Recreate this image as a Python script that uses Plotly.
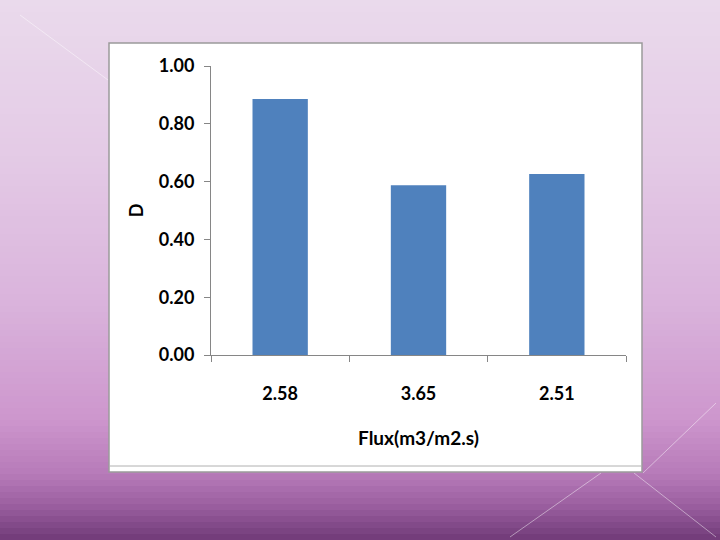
import plotly.graph_objects as go

flux_labels = ["2.58", "3.65", "2.51"]
d_values = [0.886, 0.587, 0.626]

W, H = 720, 540
L, R, T, B = 211, 94, 66, 185


def px(x):
    return (x - L) / (W - L - R)


def py(y):
    return (H - B - y) / (H - T - B)


# slide background gradient (pixel y, rgb)
stops = [
    (0, (234, 218, 236)),
    (150, (228, 203, 230)),
    (300, (218, 180, 220)),
    (420, (205, 150, 205)),
    (475, (182, 122, 184)),
    (505, (155, 95, 160)),
    (540, (112, 58, 120)),
]


def color_at(y):
    for (y0, c0), (y1, c1) in zip(stops, stops[1:]):
        if y0 <= y <= y1:
            t = (y - y0) / (y1 - y0)
            return "rgb(%d,%d,%d)" % tuple(round(a + (b - a) * t) for a, b in zip(c0, c1))
    return "rgb(%d,%d,%d)" % stops[-1][1]


shapes = []
step = 6
for y in range(0, H, step):
    shapes.append(dict(
        type="rect", xref="paper", yref="paper", layer="below",
        x0=px(0), x1=px(W), y0=py(y + step + 1), y1=py(y),
        fillcolor=color_at(y + step / 2), line=dict(width=0),
    ))

# faint decorative lines
for (x0, y0, x1, y1) in [(20, 15, 108, 80), (510, 537, 601, 473),
                         (634, 473, 716, 537), (716, 403, 643, 473)]:
    shapes.append(dict(
        type="line", xref="paper", yref="paper", layer="below",
        x0=px(x0), y0=py(y0), x1=px(x1), y1=py(y1),
        line=dict(color="rgba(255,255,255,0.45)", width=1),
    ))

# chart box
shapes.append(dict(
    type="rect", xref="paper", yref="paper", layer="below",
    x0=px(109), x1=px(642), y0=py(472), y1=py(43),
    fillcolor="white", line=dict(color="#9a9a9a", width=1.5),
))
shapes.append(dict(
    type="line", xref="paper", yref="paper", layer="below",
    x0=px(109), x1=px(642), y0=py(466), y1=py(466),
    line=dict(color="#b0b0b0", width=1),
))

fig = go.Figure()
fig.add_trace(
    go.Bar(
        x=flux_labels,
        y=d_values,
        marker=dict(color="#4f81bd", line=dict(width=0)),
    )
)

font_family = "Lato, 'Open Sans', sans-serif"
fig.update_layout(
    width=W,
    height=H,
    margin=dict(l=L, r=R, t=T, b=B),
    paper_bgcolor="#ead9ec",
    plot_bgcolor="rgba(0,0,0,0)",
    bargap=0.6,
    showlegend=False,
    shapes=shapes,
    font=dict(family=font_family, color="black"),
)
fig.update_xaxes(
    type="category",
    showline=True,
    linecolor="#868686",
    linewidth=1,
    ticks="outside",
    tickson="boundaries",
    ticklen=6,
    tickcolor="#868686",
    ticklabelstandoff=22,
    tickfont=dict(size=18, family=font_family, weight="bold"),
    title=dict(text="<b>Flux(m3/m2.s)</b>", font=dict(size=19), standoff=29),
    showgrid=False,
    automargin=False,
)
fig.update_yaxes(
    range=[0, 1],
    dtick=0.2,
    tickformat=".2f",
    showline=True,
    linecolor="#868686",
    linewidth=1,
    ticks="outside",
    ticklen=6,
    tickcolor="#868686",
    ticklabelstandoff=6,
    tickfont=dict(size=18, family=font_family, weight="bold"),
    title=dict(text="<b>D</b>", font=dict(size=18), standoff=10),
    showgrid=False,
    zeroline=False,
    automargin=False,
)

fig.write_html(
    "out.html",
    config={"displayModeBar": False},
    post_script="document.body.style.margin='0';document.body.style.overflow='hidden';",
)
